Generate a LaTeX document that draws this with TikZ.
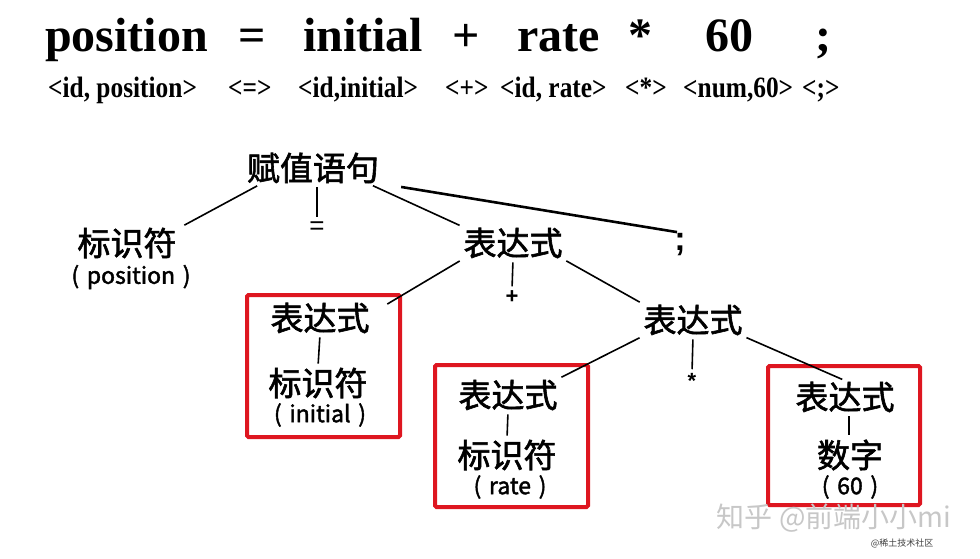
\documentclass[tikz,border=0pt]{standalone}
\usepackage{fontspec}
\setmainfont{Liberation Serif}
\newfontfamily\tokf[FakeStretch=0.86]{Liberation Serif}
\newfontfamily\cjk[FakeBold=1.8]{Noto Sans CJK SC}
\newfontfamily\cjkl{Noto Sans CJK SC}
\newfontfamily\symf{Liberation Sans}
\usepackage{xcolor}
\definecolor{boxred}{RGB}{222,22,32}

\tikzset{
  hd/.style={anchor=base west, inner sep=0pt, font=\bfseries\fontsize{48}{52}\selectfont},
  tok/.style={anchor=base west, inner sep=0pt, font=\tokf\bfseries\fontsize{29.5}{32}\selectfont},
  cn/.style={inner sep=1pt, font=\cjk\fontsize{33}{36}\selectfont},
  lx/.style={inner sep=1pt, font=\cjk\fontsize{23}{26}\selectfont},
  op/.style={inner sep=1pt, font=\symf\bfseries\fontsize{22}{24}\selectfont},
  edge/.style={line width=1.6pt, shorten <=3pt, shorten >=3pt},
  hl/.style={draw=boxred, line width=4pt, rounded corners=1.5pt},
}

\begin{document}
\begin{tikzpicture}[x=1pt, y=-1pt]
\useasboundingbox (0,0) rectangle (980,558);
% source line and its tokens
\foreach \i/\xx/\w in {1/45/position, 2/238/=, 3/303/initial, 4/452/+, 5/517/rate, 6/628/*, 7/705/60, 8/815/;}
  \node[hd] (h\i) at (\xx,51) {\w};
\foreach \i/\xx/\w in {1/48/{<id, position>}, 2/228/{<=>}, 3/298/{<id,initial>}, 4/445/{<+>}, 5/500/{<id, rate>}, 6/625/{<*>}, 7/683/{<num,60>}, 8/802/{<;>}}
  \node[tok] (t\i) at (\xx,97) {\w};

% syntax tree
\node[cn] (root) at (313,168) {赋值语句};
\node[cn] (id1) at (127,243) {标识符};
\node[lx] (pos) at (131,277) {(\,\,position\,\,)};
\node[op, font=\symf\fontsize{26}{28}\selectfont] (eq) at (317,228) {=};
\node[cn] (ex1) at (513,243) {表达式};
\node[op, font=\symf\bfseries\fontsize{34}{36}\selectfont] (semi) at (680,245) {;};
\node[op] (plus) at (512,297) {+};

\node[cn] (ex2) at (320,318) {表达式};
\node[cn] (id2) at (318,383) {标识符};
\node[lx] (ini) at (320,415) {(\,\,initial\,\,)};

\node[cn] (ex3) at (693,320) {表达式};
\node[op] (times) at (692,381) {*};

\node[cn] (ex4) at (508,395) {表达式};
\node[cn] (id3) at (507,455) {标识符};
\node[lx] (rt) at (510,487) {(\,\,rate\,\,)};

\node[cn] (ex5) at (845,397) {表达式};
\node[cn] (num) at (850,455) {数字};
\node[lx] (sixty) at (850,487) {(\,\,60\,\,)};

% red boxes
\draw[hl] (247,295) rectangle (400,437);
\draw[hl] (435,365) rectangle (588,507);
\draw[hl] (768,366) rectangle (920,505);

% connectors
\draw[edge] ([xshift=14pt]root.south west) -- ([xshift=4pt]id1.north east);
\draw[edge] (eq.north |- root.south) -- (eq.north);
\draw[edge] ([xshift=-10pt]root.south east) -- (ex1.north west);
\draw[edge, line width=2.6pt] ([xshift=18pt,yshift=-2pt]root.south east) -- (semi.north);
\draw[edge] (ex1.south west) -- ([xshift=14pt,yshift=-4pt]ex2.north east);
\draw[edge] (ex1.south) -- (plus.north);
\draw[edge] (ex1.south east) -- (ex3.north west);
\draw[edge] (ex2.south) -- (id2.north);
\draw[edge] (ex3.south west) -- (ex4.north east);
\draw[edge] (ex3.south) -- (times.north);
\draw[edge] (ex3.south east) -- (ex5.north);
\draw[edge] (ex4.south) -- (id3.north);
\draw[edge] ([xshift=4pt]ex5.south) -- ([xshift=-1pt]num.north);

% watermarks
\node[font=\cjkl\fontsize{28}{30}\selectfont, text=black!22] (wm1) at (834,518) {知乎 @前端小小mi};
\node[font=\cjkl\fontsize{9}{10}\selectfont, text=black!75] (wm2) at (902,543) {@稀土技术社区};
\end{tikzpicture}
\end{document}
